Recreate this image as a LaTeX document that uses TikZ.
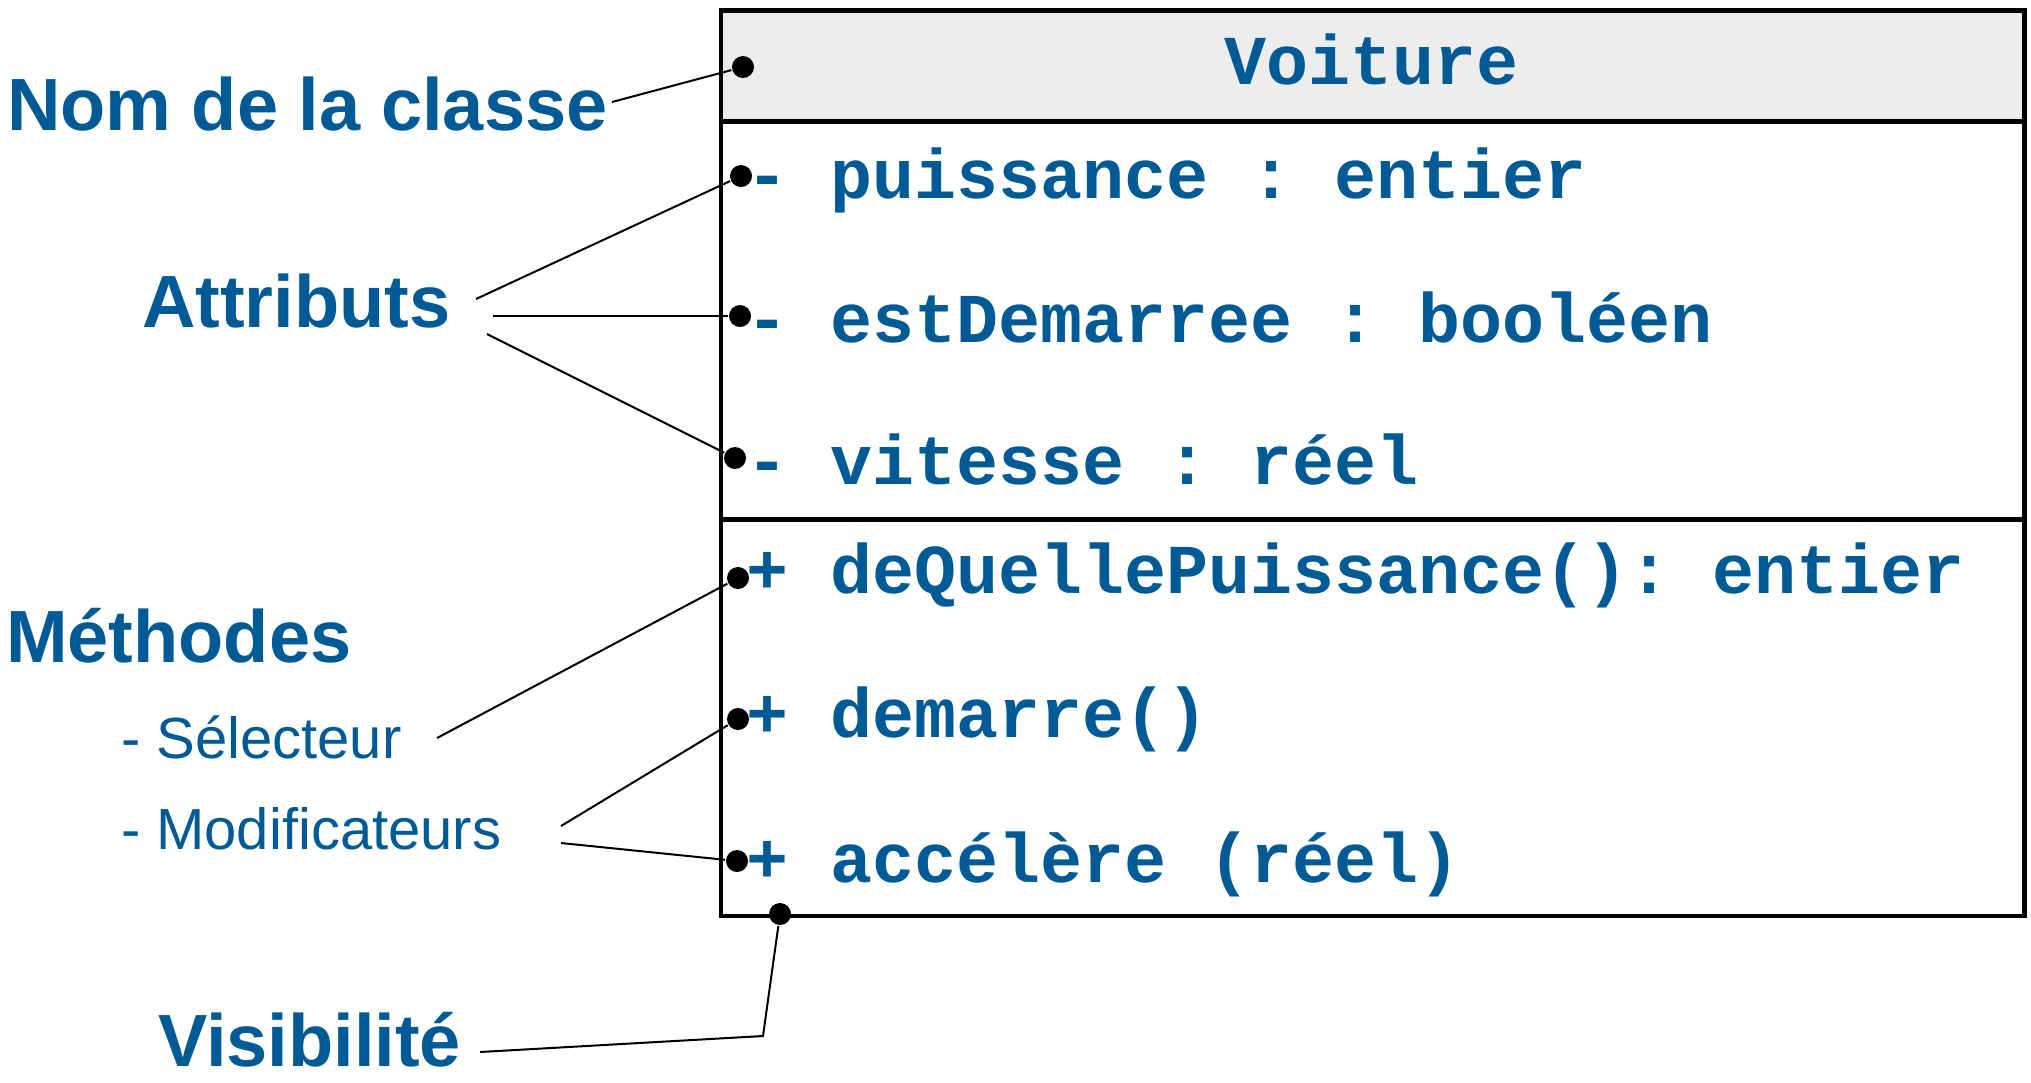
\documentclass[tikz,border=0pt]{standalone}
\usepackage{fontspec}
\usepackage{xcolor}
\newfontfamily\labelfont{Liberation Sans}
\newfontfamily\codefont{Liberation Mono}
\definecolor{umlblue}{RGB}{0,90,150}
\definecolor{headgray}{RGB}{237,237,237}

\begin{document}
\begin{tikzpicture}[x=0.5bp, y=-0.5bp, line width=1bp,
  titre/.style={anchor=base west, inner sep=0, text=umlblue,
    font=\labelfont\bfseries\fontsize{37bp}{40bp}\selectfont},
  sous/.style={anchor=base west, inner sep=0, text=umlblue,
    font=\labelfont\fontsize{29bp}{32bp}\selectfont},
  code/.style={anchor=base west, inner sep=0, text=umlblue,
    font=\codefont\bfseries\fontsize{35bp}{38bp}\selectfont\frenchspacing},
  pastille/.style={circle, fill=black, inner sep=0, minimum size=11bp}]
\useasboundingbox (0,0) rectangle (2031,1082);

% la classe
\fill[headgray] (721,10.5) rectangle (2024.5,121);
\draw[line width=2.25bp] (721,10.5) rectangle (2024.5,916);
\draw[line width=2.5bp] (721,121) -- (2024.5,121);
\draw[line width=2.5bp] (721,519.5) -- (2024.5,519.5);

\node[code, anchor=base] (voiture) at (1372,84.5) {Voiture};

\foreach \t/\b [count=\i] in {puissance : entier/198, estDemarree : booléen/342, vitesse : réel/484}
  \node[code] (attr-\i) at (745,\b) {- \t};

\foreach \t/\b [count=\i] in {deQuellePuissance(): entier/593, demarre()/737, accélère (réel)/882}
  \node[code] (meth-\i) at (745,\b) {+ \t};

% pastilles
\node[pastille] (dot-0) at (743,67) {};
\foreach \x/\y [count=\i] in {741/176, 740/316, 735/458, 738/578, 738/719, 737/861, 780/914}
  \node[pastille] (dot-\i) at (\x,\y) {};

% legendes
\node[titre] (nom) at (6,130) {Nom de la classe};
\node[titre] (attributs) at (141,327) {Attributs};
\node[titre] (methodes) at (5,662) {Méthodes};
\node[sous] (selecteur) at (120,758) {- Sélecteur};
\node[sous] (modif) at (120,849) {- Modificateurs};
\node[titre] (visibilite) at (157,1066) {Visibilité};

\coordinate (nom-fin) at (612,102);
\coordinate (attr-a) at (476,299);
\coordinate (attr-b) at (493,316);
\coordinate (attr-c) at (487,334);
\coordinate (sel-fin) at (437,738);
\coordinate (mod-a) at (561,826);
\coordinate (mod-b) at (561,843);
\coordinate (vis-a) at (480,1052);
\coordinate (vis-b) at (763,1036);

\draw (nom-fin) -- (dot-0);
\draw (attr-a) -- (dot-1);
\draw (attr-b) -- (dot-2);
\draw (attr-c) -- (dot-3);
\draw (sel-fin) -- (dot-4);
\draw (mod-a) -- (dot-5);
\draw (mod-b) -- (dot-6);
\draw (vis-a) -- (vis-b) -- (dot-7);

\end{tikzpicture}
\end{document}
